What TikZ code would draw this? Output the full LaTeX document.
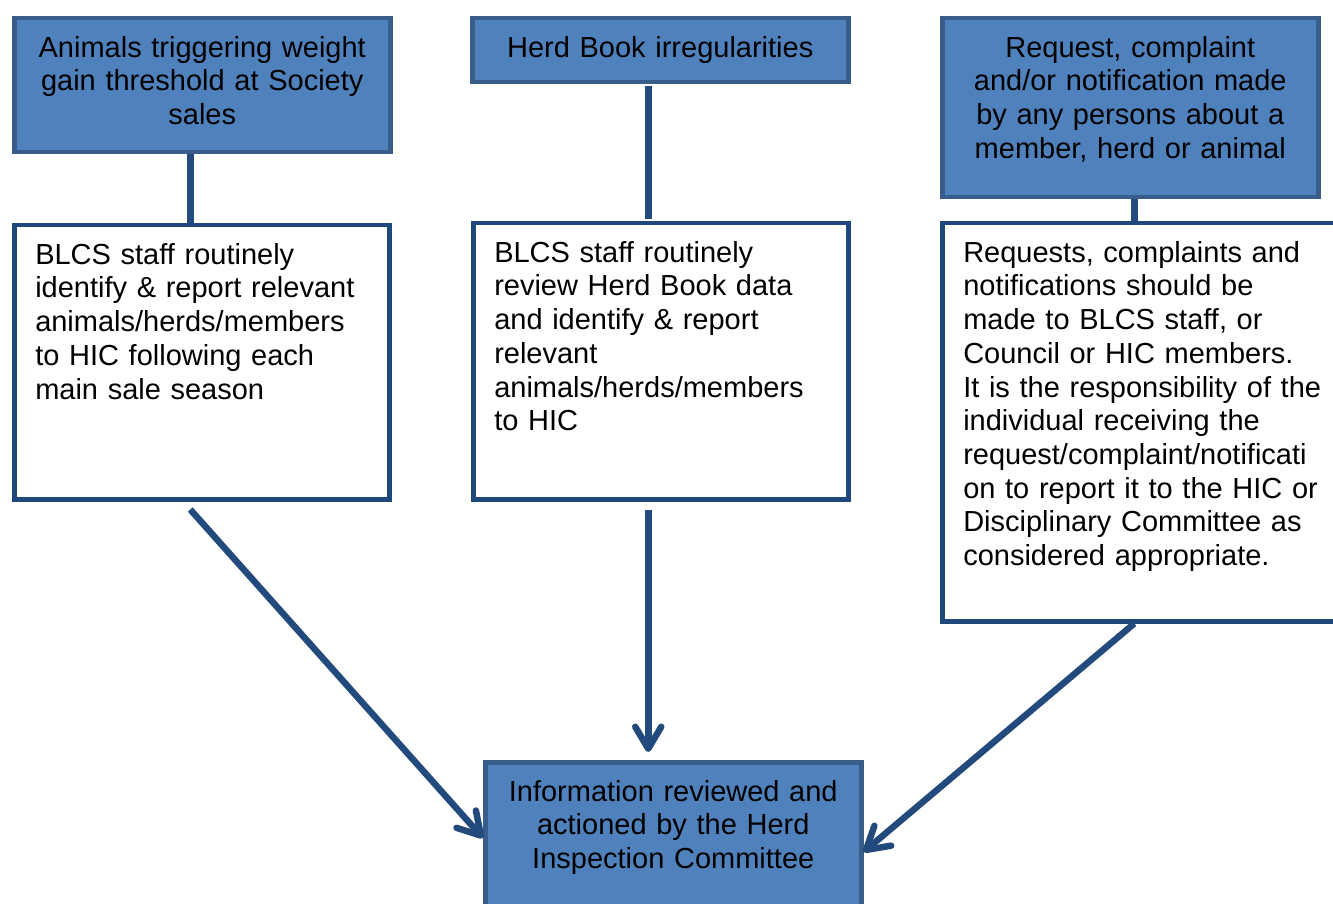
\documentclass[tikz,border=0pt]{standalone}
\usepackage{fontspec}
\setmainfont{Liberation Sans}
\usetikzlibrary{arrows.meta}
\definecolor{topfill}{HTML}{4F81BD}
\definecolor{topline}{HTML}{385D8A}
\definecolor{boxline}{HTML}{1F497D}
\definecolor{connline}{HTML}{234A7D}

\begin{document}
\begin{tikzpicture}[x=1pt, y=-1pt,
    every node/.style={font=\fontsize{29}{33.7}\selectfont, anchor=north west, inner ysep=17pt, text height=22pt},
    topbox/.style={draw=topline, fill=topfill, line width=4.5pt, text width=336pt, inner xsep=20pt, align=center},
    infobox/.style={draw=boxline, fill=white, line width=4.5pt, text width=333pt, inner xsep=21pt, align=left},
    link/.style={draw=connline, line width=6.5pt},
    flow/.style={link, -{Straight Barb[length=22pt, width=26pt, line cap=round, line join=round]}}]
        \useasboundingbox (0,0) rectangle (1333,904);

        % Define the sources along the top
        \node[topbox, text depth=78pt] (sales) at (12,16) {Animals triggering weight\\gain threshold at Society\\sales};
        \node[topbox, text depth=8pt] (herdbook) at (470,16) {Herd Book irregularities};
        \node[topbox, text depth=123pt] (request) at (940,16) {Request, complaint\\and/or notification made\\by any persons about a\\member, herd or animal};

        % Define the reporting steps
        \node[infobox, text depth=218pt] (salesrep) at (12,223) {BLCS staff routinely\\identify \& report relevant\\animals/herds/members\\to HIC following each\\main sale season};
        \node[infobox, text depth=220pt] (herdrep) at (471,221) {BLCS staff routinely\\review Herd Book data\\and identify \& report\\relevant\\animals/herds/members\\to HIC};
        \node[infobox, text width=385pt, text depth=342pt] (requestrep) at (940,221) {Requests, complaints and\\notifications should be\\made to BLCS staff, or\\Council or HIC members.\\It is the responsibility of the\\individual receiving the\\request/complaint/notificati\\on to report it to the HIC or\\Disciplinary Committee as\\considered appropriate.};

        % Define the committee
        \node[topbox, text depth=114pt] (hic) at (483,760) {Information reviewed and\\actioned by the Herd\\Inspection Committee};

        % Define the links
        \draw[link] ([xshift=-12pt]sales.south) -- ([xshift=-12pt]sales.south |- salesrep.north);
        \draw[link] ([xshift=-12pt,yshift=-2pt]herdbook.south) -- ([xshift=-12pt,yshift=2pt]herdbook.south |- herdrep.north);
        \draw[link] ([xshift=4pt]request.south) -- ([xshift=4pt]request.south |- requestrep.north);

        % Define the arrows into the committee
        \draw[flow] ([xshift=-12pt,yshift=-8pt]sales.south |- salesrep.south) -- ([yshift=-78pt]hic.north west);
        \draw[flow] ([xshift=-12pt,yshift=-8pt]herdbook.south |- herdrep.south) -- ([xshift=-12pt,yshift=8pt]herdbook.south |- hic.north);
        \draw[flow] ([xshift=4pt]request.south |- requestrep.south) -- ([yshift=-92pt]hic.north east);
    \end{tikzpicture}
\end{document}
